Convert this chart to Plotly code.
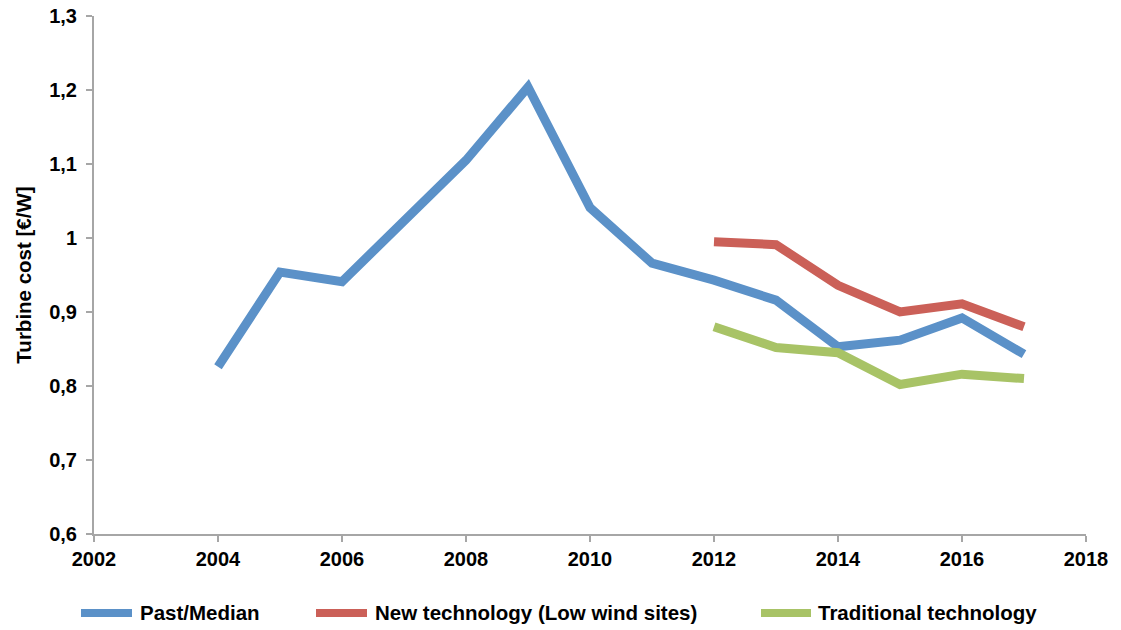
import plotly.graph_objects as go

# Turbine cost per watt, by year
years_past = [2004, 2005, 2006, 2007, 2008, 2009, 2010, 2011, 2012, 2013, 2014, 2015, 2016, 2017]
past_median = [0.826, 0.954, 0.941, 1.024, 1.105, 1.204, 1.041, 0.966, 0.943, 0.916, 0.853, 0.862, 0.892, 0.843]

years_tech = [2012, 2013, 2014, 2015, 2016, 2017]
new_technology = [0.995, 0.991, 0.936, 0.900, 0.911, 0.880]
traditional_technology = [0.880, 0.852, 0.845, 0.802, 0.816, 0.810]

series_names = ["Past/Median", "New technology (Low wind sites)", "Traditional technology"]
series_colors = ["#5B91C8", "#CB6058", "#A8C366"]

x_ticks = [2002, 2004, 2006, 2008, 2010, 2012, 2014, 2016, 2018]
y_ticks = [0.6, 0.7, 0.8, 0.9, 1.0, 1.1, 1.2, 1.3]
y_tick_text = ["0,6", "0,7", "0,8", "0,9", "1", "1,1", "1,2", "1,3"]

FONT = "Liberation Sans, Arial, sans-serif"
AXIS_GREY = "#A6A6A6"
BOLD_TICK = dict(family=FONT, size=20, color="#000000", weight="bold")

fig = go.Figure()
for xs, ys, name, color in [
    (years_past, past_median, series_names[0], series_colors[0]),
    (years_tech, new_technology, series_names[1], series_colors[1]),
    (years_tech, traditional_technology, series_names[2], series_colors[2]),
]:
    fig.add_trace(go.Scatter(
        x=xs, y=ys, name=name, mode="lines",
        line=dict(color=color, width=9),
        showlegend=False,
    ))

# Hand-laid legend row under the x axis (paper coordinates)
L, R = 94, 1086
def px_to_paper(px):
    return (px - L) / (R - L)

legend_items = [
    (78, 135, 138),
    (313, 370, 373),
    (758, 814, 816),
]
for (x0, x1, xt), name, color in zip(legend_items, series_names, series_colors):
    fig.add_shape(type="line", xref="paper", yref="paper",
                  x0=px_to_paper(x0 + 3), x1=px_to_paper(x1 - 3),
                  y0=-0.1525, y1=-0.1525,
                  line=dict(color=color, width=8))
    fig.add_annotation(xref="paper", yref="paper",
                       x=px_to_paper(xt), y=-0.1525,
                       text=name, showarrow=False,
                       xanchor="left", yanchor="middle",
                       font=dict(family=FONT, size=20.5, color="#000000", weight="bold"))

fig.update_layout(
    width=1121, height=630,
    margin=dict(l=94, r=35, t=16, b=96),
    paper_bgcolor="white", plot_bgcolor="white",
    font=dict(family=FONT, color="#000000"),
)
fig.update_xaxes(
    range=[2002, 2018], tickvals=x_ticks, ticktext=[str(v) for v in x_ticks],
    showgrid=False, zeroline=False, automargin=False,
    showline=True, linecolor=AXIS_GREY, linewidth=2,
    ticks="outside", ticklen=6, tickwidth=1.5, tickcolor=AXIS_GREY,
    tickfont=BOLD_TICK,
)
fig.update_yaxes(
    range=[0.6, 1.3], tickvals=y_ticks, ticktext=y_tick_text,
    showgrid=False, zeroline=False, automargin=False,
    showline=True, linecolor=AXIS_GREY, linewidth=2,
    ticks="outside", ticklen=6, tickwidth=1.5, tickcolor=AXIS_GREY,
    tickfont=BOLD_TICK, ticklabelstandoff=5,
    title=dict(text="Turbine cost [€/W]",
               font=dict(family=FONT, size=20.5, color="#000000", weight="bold"),
               standoff=12),
)

fig.write_html("out.html")
